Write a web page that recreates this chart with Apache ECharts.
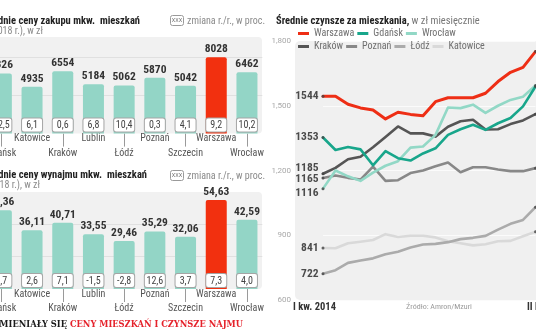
<!DOCTYPE html>
<html>
<head>
<meta charset="utf-8">
<script src="https://cdn.jsdelivr.net/npm/echarts@6/dist/echarts.min.js"></script>
<style>
  html, body { margin: 0; padding: 0; background: #fff; }
  #chart { width: 536px; height: 332px; }
</style>
</head>
<body>
<div id="chart"></div>
<script>
// ---- data ----
const cities = ['Gdańsk', 'Katowice', 'Kraków', 'Lublin', 'Łódź', 'Poznań', 'Szczecin', 'Warszawa', 'Wrocław'];
const buyPrice = [6326, 4935, 6554, 5184, 5062, 5870, 5042, 8028, 6462];
const buyChange = ['12,5', '6,1', '0,6', '6,8', '10,4', '0,3', '4,1', '9,2', '10,2'];
const rentPrice = [48.36, 36.11, 40.71, 33.55, 29.46, 35.29, 32.06, 54.63, 42.59];
const rentChange = ['5,7', '2,6', '7,1', '-1,5', '-2,8', '12,6', '3,7', '7,3', '4,0'];

const quarters = [
  'I kw. 2014', 'II kw. 2014', 'III kw. 2014', 'IV kw. 2014',
  'I kw. 2015', 'II kw. 2015', 'III kw. 2015', 'IV kw. 2015',
  'I kw. 2016', 'II kw. 2016', 'III kw. 2016', 'IV kw. 2016',
  'I kw. 2017', 'II kw. 2017', 'III kw. 2017', 'IV kw. 2017',
  'I kw. 2018', 'II kw. 2018'
];
const rentWarszawa = [1544, 1544, 1507, 1490, 1480, 1439, 1470, 1460, 1454, 1519, 1537, 1537, 1537, 1558, 1612, 1655, 1678, 1751];
const rentGdansk   = [1353, 1295, 1309, 1298, 1224, 1290, 1257, 1246, 1279, 1303, 1365, 1391, 1412, 1388, 1419, 1443, 1497, 1589];
const rentWroclaw  = [1116, 1200, 1173, 1152, 1190, 1222, 1243, 1306, 1311, 1365, 1492, 1489, 1505, 1467, 1500, 1527, 1542, 1594];
const rentKrakow   = [1185, 1212, 1252, 1264, 1308, 1355, 1404, 1372, 1372, 1357, 1403, 1428, 1435, 1390, 1391, 1415, 1432, 1461];
const rentPoznan   = [1165, 1177, 1166, 1158, 1218, 1152, 1155, 1188, 1200, 1220, 1237, 1192, 1215, 1215, 1205, 1197, 1197, 1211];
const rentLodz     = [722, 738, 772, 783, 793, 812, 824, 843, 857, 860, 868, 882, 888, 897, 926, 953, 971, 1030];
const rentKatowice = [841, 840, 863, 870, 878, 905, 892, 898, 898, 890, 872, 863, 853, 858, 872, 874, 895, 916];
const rentTicks = [600, 900, 1200, 1500, 1800];

// ---- styles ----
const COND = "'Roboto Condensed','Liberation Sans Narrow','DejaVu Sans Condensed','Arial Narrow',Roboto,sans-serif";
const SLAB = "'DejaVu Serif','Liberation Serif',serif";
const TEAL = '#93d5c6';
const RED = '#f2300f';
const BG = '#f1f1f1';

// line series, drawn bottom to top
const lines = [
  { name: 'Katowice', values: rentKatowice, color: '#d9d9d9', dy: 0 },
  { name: 'Łódź',     values: rentLodz,     color: '#ababab', dy: 0 },
  { name: 'Poznań',   values: rentPoznan,   color: '#888888', dy: 1.5 },
  { name: 'Kraków',   values: rentKrakow,   color: '#555555', dy: -5.5 },
  { name: 'Wrocław',  values: rentWroclaw,  color: '#92d8c6', dy: 4.5 },
  { name: 'Gdańsk',   values: rentGdansk,   color: '#18a68b', dy: 0 },
  { name: 'Warszawa', values: rentWarszawa, color: '#ee2e15', dy: 0 }
];

// one bar panel (grid + axes + series)
function barPanel(idx, values, changes, top, height, max, interval, fmt) {
  const warsaw = cities.indexOf('Warszawa');
  return {
    grid: { left: -14, width: 276.3, top: top, height: height, outerBoundsMode: 'none', containLabel: false },
    xAxis: {
      type: 'category', gridIndex: idx, data: cities,
      axisLine: { show: false },
      axisTick: { show: true, alignWithLabel: true, interval: (i) => i % 2 === 0, length: 13, lineStyle: { color: '#9a9a9a', width: 1 } },
      axisLabel: {
        interval: 0, margin: -2, lineHeight: 14.4, fontSize: 10, color: '#555', fontFamily: COND,
        formatter: (v, i) => (i % 2 === 0 ? '\n' + v : v)
      },
      splitLine: { show: false }
    },
    yAxis: {
      type: 'value', gridIndex: idx, min: 0, max: max, interval: interval,
      axisLabel: { show: false }, axisLine: { show: false }, axisTick: { show: false },
      splitLine: { show: true, showMinLine: false, showMaxLine: false, lineStyle: { color: '#e0e0e0', width: 1 } }
    },
    series: [
      {
        type: 'bar', xAxisIndex: idx, yAxisIndex: idx, data: values, barWidth: 21, barGap: '-100%',
        silent: true, animation: false,
        itemStyle: { color: (p) => (p.dataIndex === warsaw ? RED : TEAL), borderRadius: [2, 2, 0, 0] },
        label: {
          show: true, position: 'top', distance: 2, formatter: (p) => fmt(p.value),
          fontFamily: COND, fontWeight: 'bold', fontSize: 11.5, color: '#333'
        }
      },
      {
        type: 'bar', xAxisIndex: idx, yAxisIndex: idx, data: values, barWidth: 21, barGap: '-100%',
        silent: true, animation: false, z: 3,
        itemStyle: { color: 'rgba(0,0,0,0)' },
        label: {
          show: true, position: 'insideBottom', distance: 2,
          formatter: (p) => changes[p.dataIndex],
          backgroundColor: '#fff', borderColor: '#a5a5a5', borderWidth: 1, borderRadius: 2,
          width: 20, align: 'center', padding: [2, 0, 1, 0],
          fontFamily: COND, fontSize: 10, lineHeight: 10, color: '#444'
        }
      }
    ]
  };
}

const buy = barPanel(0, buyPrice, buyChange, 38.5, 95.1, 10000, 4000, (v) => String(v));
const rent = barPanel(1, rentPrice, rentChange, 191.3, 97.7, 60, 20, (v) => v.toFixed(2).replace('.', ','));

const lineGrid = { left: 323, right: 0.5, top: 41, height: 259, outerBoundsMode: 'none', containLabel: false };

const lineSeries = lines.map((l) => ({
  type: 'line', name: l.name, xAxisIndex: 2, yAxisIndex: 2,
  data: l.values, color: l.color, showSymbol: false, symbol: 'none',
  lineStyle: { width: l.name === 'Warszawa' ? 3 : 2.6, color: l.color, cap: 'round', join: 'round' },
  silent: true, animation: false
}));

const startDots = {
  type: 'scatter', name: 'poczatek', xAxisIndex: 2, yAxisIndex: 2, symbolSize: 3, z: 5,
  itemStyle: { color: '#444' }, silent: true, animation: false,
  data: lines.map((l) => ({
    value: [quarters[0], l.values[0]],
    label: { offset: [0, l.dy] }
  })),
  label: {
    show: true, position: 'left', distance: 3, formatter: (p) => String(p.value[1]),
    fontFamily: COND, fontWeight: 'bold', fontSize: 11.5, color: '#222'
  }
};
const endDots = {
  type: 'scatter', name: 'koniec', xAxisIndex: 2, yAxisIndex: 2, symbolSize: 3, z: 5,
  itemStyle: { color: '#444' }, silent: true, animation: false,
  data: lines.map((l) => [quarters[quarters.length - 1], l.values[l.values.length - 1]])
};

function boxLegend(y) {
  return [
    { type: 'rect', shape: { x: 170.5, y: y - 5.5, width: 13, height: 10, r: 2 }, style: { fill: '#fff', stroke: '#9a9a9a', lineWidth: 1 }, z: 10 },
    { type: 'text', x: 177, y: y - 0.5, style: { text: 'XXX', fill: '#777', font: '5.5px Roboto', align: 'center', verticalAlign: 'middle' }, z: 11 },
    { type: 'text', x: 187, y: y, style: { text: 'zmiana r./r., w proc.', fill: '#8a8a8a', font: '10px ' + COND, align: 'left', verticalAlign: 'middle' }, z: 11 }
  ];
}

const graphics = [
  // panel backgrounds
  { type: 'rect', shape: { x: -10, y: 37, width: 272, height: 96.6, r: 4 }, style: { fill: BG }, z: -10 },
  { type: 'rect', shape: { x: -10, y: 192, width: 272, height: 97, r: 4 }, style: { fill: BG }, z: -10 },
  { type: 'rect', shape: { x: 295, y: 41, width: 260, height: 259, r: 5 }, style: { fill: '#f0f0f0' }, z: -10 },

  // left panel headings
  { type: 'text', x: 140, y: 21, style: { text: 'Średnie ceny zakupu mkw.  mieszkań', fill: '#222', font: 'bold 10.5px ' + COND, align: 'right', verticalAlign: 'middle' } },
  { type: 'text', x: 43, y: 31.5, style: { text: '(II kw. 2018 r.), w zł', fill: '#8a8a8a', font: '10px ' + COND, align: 'right', verticalAlign: 'middle' } },
  { type: 'text', x: 147, y: 175, style: { text: 'Średnie ceny wynajmu mkw.  mieszkań', fill: '#222', font: 'bold 10.5px ' + COND, align: 'right', verticalAlign: 'middle' } },
  { type: 'text', x: 40, y: 185.5, style: { text: '(II kw. 2018 r.), w zł', fill: '#8a8a8a', font: '10px ' + COND, align: 'right', verticalAlign: 'middle' } },
  ...boxLegend(21),
  ...boxLegend(176),

  // bottom banner
  { type: 'text', x: 243, y: 325, style: {
      text: '{k|JAK ZMIENIAŁY SIĘ }{r|CENY MIESZKAŃ I CZYNSZE NAJMU}', align: 'right', verticalAlign: 'middle',
      rich: {
        k: { fill: '#1a1a1a', font: 'bold 8.3px ' + SLAB },
        r: { fill: '#e5222b', font: 'bold 8.3px ' + SLAB }
      } } },

  // right panel heading
  { type: 'text', x: 276, y: 21, style: {
      text: '{b|Średnie czynsze za mieszkania,}{l| w zł miesięcznie}', align: 'left', verticalAlign: 'middle',
      rich: {
        b: { fill: '#222', font: 'bold 10.5px ' + COND },
        l: { fill: '#777', font: '10.5px ' + COND }
      } } },

  // right panel footer
  { type: 'text', x: 293, y: 307, style: { text: quarters[0], fill: '#333', font: 'bold 10.5px ' + COND, align: 'left', verticalAlign: 'middle' } },
  { type: 'text', x: 527, y: 307, style: { text: quarters[quarters.length - 1], fill: '#333', font: 'bold 10.5px ' + COND, align: 'left', verticalAlign: 'middle' } },
  { type: 'text', x: 439, y: 307, style: { text: 'Źródło: Amron/Mzuri', fill: '#9a9a9a', font: '8px ' + COND, align: 'center', verticalAlign: 'middle' } }
];

const legendCommon = {
  icon: 'rect', itemWidth: 11, itemHeight: 3, itemGap: 3, selectedMode: false, orient: 'horizontal',
  padding: 0, textStyle: { fontSize: 10, color: '#6f6f6f', fontFamily: COND }
};

const option = {
  animation: false,
  backgroundColor: '#fff',
  legend: [
    Object.assign({}, legendCommon, { left: 298, top: 28.5, data: ['Warszawa', 'Gdańsk', 'Wrocław'] }),
    Object.assign({}, legendCommon, { left: 298, top: 41.5, data: ['Kraków', 'Poznań', 'Łódź', 'Katowice'] })
  ],
  grid: [buy.grid, rent.grid, lineGrid],
  xAxis: [buy.xAxis, rent.xAxis, {
    type: 'category', gridIndex: 2, data: quarters, boundaryGap: false,
    axisLine: { show: false }, axisTick: { show: false }, axisLabel: { show: false }, splitLine: { show: false }
  }],
  yAxis: [buy.yAxis, rent.yAxis, {
    type: 'value', gridIndex: 2, min: rentTicks[0], max: rentTicks[rentTicks.length - 1], interval: rentTicks[1] - rentTicks[0],
    axisLine: { show: false }, axisTick: { show: false },
    axisLabel: { margin: 32, fontSize: 8, color: '#a8a8a8', fontFamily: 'Roboto' },
    splitLine: { show: true, lineStyle: { color: '#fbfbfb', width: 1 } }
  }],
  series: [...buy.series, ...rent.series, ...lineSeries, startDots, endDots],
  graphic: { elements: graphics }
};

const chart = echarts.init(document.getElementById('chart'), null, { renderer: 'canvas', width: 536, height: 332 });
chart.setOption(option);
</script>
</body>
</html>
